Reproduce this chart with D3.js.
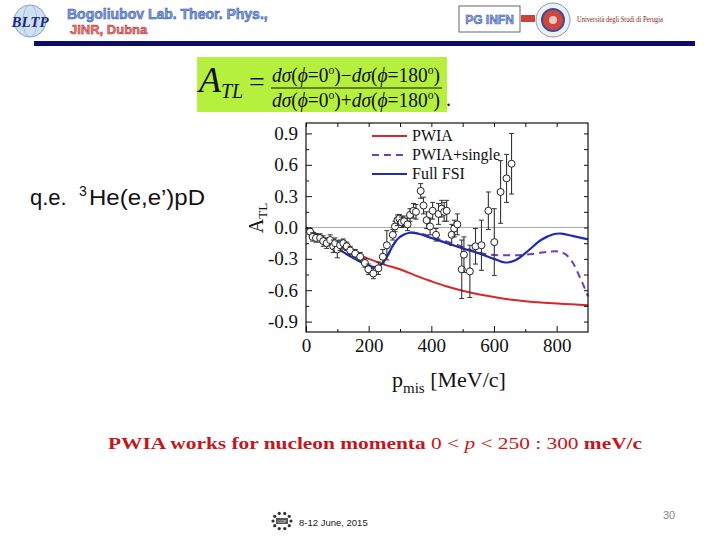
<!DOCTYPE html>
<html>
<head>
<meta charset="utf-8">
<script src="https://cdn.jsdelivr.net/npm/d3@7"></script>
<style>
  body { margin: 0; background: #fff; }
  svg { display: block; }
</style>
</head>
<body>
<script>
// ---- chart data ----
var xTicks = [0, 200, 400, 600, 800];
var xMinor = [100, 300, 500, 700];
var yTicks = [-0.9, -0.6, -0.3, 0.0, 0.3, 0.6, 0.9];
var yMinor = [-0.75, -0.45, -0.15, 0.15, 0.45, 0.75];

var legendNames = ["PWIA", "PWIA+single", "Full FSI"];

var pwiaX = [0, 50, 100, 150, 200, 250, 300, 350, 400, 450, 500, 550, 600, 650, 700, 750, 800, 850, 900];
var pwiaY = [0, -0.09, -0.18, -0.24, -0.30, -0.355, -0.40, -0.46, -0.515, -0.565, -0.605, -0.638, -0.665, -0.688, -0.705, -0.718, -0.727, -0.735, -0.744];

var singleX = [0, 50, 100, 150, 200, 225, 245, 260, 280, 300, 330, 360, 400, 450, 500, 540, 580, 620, 660, 700, 740, 780, 810, 830, 850, 870, 885, 900];
var singleY = [0, -0.10, -0.20, -0.29, -0.365, -0.38, -0.34, -0.27, -0.16, -0.09, -0.05, -0.055, -0.09, -0.135, -0.185, -0.23, -0.258, -0.265, -0.265, -0.26, -0.245, -0.23, -0.232, -0.26, -0.33, -0.45, -0.55, -0.66];

var fsiX = [0, 50, 100, 150, 200, 225, 245, 260, 280, 300, 330, 360, 400, 450, 500, 550, 600, 635, 670, 710, 750, 790, 815, 850, 900];
var fsiY = [0, -0.10, -0.20, -0.29, -0.365, -0.38, -0.34, -0.27, -0.16, -0.09, -0.05, -0.06, -0.10, -0.15, -0.20, -0.245, -0.30, -0.335, -0.31, -0.22, -0.12, -0.065, -0.058, -0.08, -0.114];

var expX = [13, 21, 32, 45, 55, 66, 77, 87, 93, 100, 109, 119, 130, 141, 157, 173, 188, 199, 215, 231, 245, 258,
            277, 284, 292, 298, 305, 313, 324, 332, 343, 351, 366, 375, 385, 396, 404, 415, 423, 433, 441, 449,
            465, 473, 483, 497, 504, 523, 541, 560, 582, 601, 621, 640, 656];
var expY = [-0.04, -0.09, -0.10, -0.10, -0.13, -0.15, -0.12, -0.18, -0.15, -0.21, -0.17, -0.15, -0.18, -0.22, -0.25, -0.28, -0.34, -0.40, -0.44, -0.39, -0.28, -0.17,
            -0.07, 0.01, 0.07, 0.085, 0.05, 0.06, 0.03, 0.12, 0.16, 0.15, 0.35, 0.21, 0.07, 0.01, 0.16, -0.07, 0.13, 0.18, 0.15, 0.16,
            -0.07, -0.01, 0.03, -0.40, -0.26, -0.42, -0.18, -0.17, 0.16, -0.14, 0.34, 0.47, 0.61];
var expErr = [0.03, 0.04, 0.04, 0.04, 0.05, 0.05, 0.05, 0.06, 0.05, 0.08, 0.05, 0.04, 0.04, 0.04, 0.04, 0.04, 0.04, 0.05, 0.05, 0.06, 0.07, 0.14,
              0.05, 0.05, 0.05, 0.04, 0.05, 0.05, 0.06, 0.06, 0.07, 0.07, 0.07, 0.08, 0.08, 0.08, 0.08, 0.06, 0.10, 0.08, 0.09, 0.10,
              0.10, 0.08, 0.10, 0.28, 0.17, 0.25, 0.17, 0.24, 0.18, 0.32, 0.30, 0.23, 0.29];

// ---- layout ----
var W = 720, H = 540;
var L = 306, R = 588, T = 123, B = 332;
var serif = "'Liberation Serif', 'Times New Roman', serif";
var sans = "'Liberation Sans', Arial, sans-serif";

var svg = d3.select("body").append("svg")
  .attr("width", W)
  .attr("height", H);

svg.append("rect").attr("width", W).attr("height", H).attr("fill", "#fff");

// ---- slide header ----
var bltp = svg.append("g");
bltp.append("circle").attr("cx", 30).attr("cy", 21).attr("r", 16)
  .attr("fill", "#cfe0f2").attr("stroke", "#7fa3cc").attr("stroke-width", 1);
bltp.append("ellipse").attr("cx", 30).attr("cy", 21).attr("rx", 7).attr("ry", 16)
  .attr("fill", "none").attr("stroke", "#9bb8da").attr("stroke-width", 0.8);
bltp.append("text").attr("x", 30).attr("y", 27)
  .attr("text-anchor", "middle")
  .attr("font-family", serif).attr("font-style", "italic").attr("font-weight", "bold")
  .attr("font-size", "15px").attr("fill", "#1a2a80")
  .text("BLTP");

svg.append("text").attr("x", 67).attr("y", 19)
  .attr("font-family", sans).attr("font-weight", "bold").attr("font-size", "14px")
  .attr("fill", "#7fa0e0").attr("stroke", "#2c4da6").attr("stroke-width", 0.5)
  .text("Bogoliubov Lab. Theor. Phys.,");
svg.append("text").attr("x", 70).attr("y", 34)
  .attr("font-family", sans).attr("font-weight", "bold").attr("font-size", "13px")
  .attr("fill", "#e58080").attr("stroke", "#b02a2a").attr("stroke-width", 0.5)
  .text("JINR, Dubna");

svg.append("rect").attr("x", 459).attr("y", 6).attr("width", 61).attr("height", 26)
  .attr("fill", "#fff").attr("stroke", "#666").attr("stroke-width", 1);
svg.append("text").attr("x", 489.5).attr("y", 24)
  .attr("text-anchor", "middle")
  .attr("font-family", sans).attr("font-weight", "bold").attr("font-size", "12px")
  .attr("fill", "#8aa8e4").attr("stroke", "#2c4da6").attr("stroke-width", 0.5)
  .text("PG INFN");
svg.append("rect").attr("x", 521).attr("y", 15).attr("width", 14).attr("height", 7).attr("fill", "#c8423a");

var pg = svg.append("g");
pg.append("circle").attr("cx", 553).attr("cy", 20).attr("r", 17)
  .attr("fill", "#eef0f4").attr("stroke", "#8a97b0").attr("stroke-width", 1);
pg.append("circle").attr("cx", 553).attr("cy", 20).attr("r", 11)
  .attr("fill", "#d0463e").attr("stroke", "#3b4f9a").attr("stroke-width", 2);
pg.append("circle").attr("cx", 553).attr("cy", 20).attr("r", 4).attr("fill", "#f1c9c4");
svg.append("text").attr("x", 577).attr("y", 22)
  .attr("font-family", serif).attr("font-size", "7.5px").attr("fill", "#8b1d1d")
  .attr("textLength", 86).attr("lengthAdjust", "spacingAndGlyphs")
  .text("Università degli Studi di Perugia");

svg.append("rect").attr("x", 34).attr("y", 41).attr("width", 661).attr("height", 5).attr("fill", "#0b0b6b");

// ---- formula box ----
svg.append("rect").attr("x", 197).attr("y", 57).attr("width", 250).attr("height", 55).attr("fill", "#b6f03e");
svg.append("text").attr("x", 199).attr("y", 92)
  .attr("font-family", serif).attr("font-style", "italic").attr("font-size", "36px").attr("fill", "#111")
  .text("A")
  .append("tspan").attr("font-size", "20px").attr("dy", 6).text("TL");
svg.append("text").attr("x", 249).attr("y", 91)
  .attr("font-family", serif).attr("font-size", "28px").attr("fill", "#111")
  .text("=");
function fracLine(yy, sign) {
  var t = svg.append("text").attr("x", 272).attr("y", yy)
    .attr("font-family", serif).attr("font-size", "20px").attr("fill", "#111")
    .attr("textLength", 168).attr("lengthAdjust", "spacingAndGlyphs");
  t.append("tspan").attr("font-style", "italic").text("dσ");
  t.append("tspan").text("(");
  t.append("tspan").attr("font-style", "italic").text("ϕ");
  t.append("tspan").text("=0");
  t.append("tspan").attr("font-size", "12px").attr("dy", -8).text("o");
  t.append("tspan").attr("dy", 8).text(")" + sign);
  t.append("tspan").attr("font-style", "italic").text("dσ");
  t.append("tspan").text("(");
  t.append("tspan").attr("font-style", "italic").text("ϕ");
  t.append("tspan").text("=180");
  t.append("tspan").attr("font-size", "12px").attr("dy", -8).text("o");
  t.append("tspan").attr("dy", 8).text(")");
}
fracLine(82, "−");
fracLine(107, "+");
svg.append("line").attr("x1", 271).attr("x2", 442).attr("y1", 88).attr("y2", 88)
  .attr("stroke", "#111").attr("stroke-width", 1.2);
svg.append("text").attr("x", 446).attr("y", 106)
  .attr("font-family", serif).attr("font-size", "20px").attr("fill", "#111").text(".");

// ---- reaction label ----
svg.append("text").attr("x", 30).attr("y", 205)
  .attr("font-family", sans).attr("font-size", "22px").attr("fill", "#111")
  .text("q.e.");
svg.append("text").attr("x", 79).attr("y", 196)
  .attr("font-family", sans).attr("font-size", "14px").attr("fill", "#111")
  .text("3");
svg.append("text").attr("x", 89).attr("y", 205)
  .attr("font-family", sans).attr("font-size", "22px").attr("fill", "#111")
  .attr("textLength", 116).attr("lengthAdjust", "spacingAndGlyphs")
  .text("He(e,e’)pD");

// ---- plot ----
var x = d3.scaleLinear().domain([0, 900]).range([L, R]);
var y = d3.scaleLinear().domain([-1, 1]).range([B, T]);

var plot = svg.append("g");

// zero line
plot.append("line")
  .attr("x1", x(0)).attr("x2", x(900))
  .attr("y1", y(0)).attr("y2", y(0))
  .attr("stroke", "#a8a8a8").attr("stroke-width", 1);

function styleAxis(g) {
  g.select(".domain").remove();
  g.selectAll(".tick line").attr("stroke", "#111").attr("stroke-width", 1);
  g.selectAll("text").attr("font-family", serif).attr("font-size", "19px").attr("fill", "#111");
}

svg.append("g").attr("transform", "translate(0," + B + ")")
  .call(d3.axisBottom(x).tickValues(xTicks).tickSizeInner(-6).tickSizeOuter(0).tickPadding(7).tickFormat(d3.format("d")))
  .call(styleAxis);
svg.append("g").attr("transform", "translate(0," + B + ")")
  .call(d3.axisBottom(x).tickValues(xMinor).tickSizeInner(-3).tickSizeOuter(0).tickFormat(""))
  .call(styleAxis);
svg.append("g").attr("transform", "translate(0," + T + ")")
  .call(d3.axisTop(x).tickValues(xTicks.concat(xMinor)).tickSizeInner(-4).tickSizeOuter(0).tickFormat(""))
  .call(styleAxis);

svg.append("g").attr("transform", "translate(" + L + ",0)")
  .call(d3.axisLeft(y).tickValues(yTicks).tickSizeInner(-6).tickSizeOuter(0).tickPadding(8)
    .tickFormat(function(d) { return d.toFixed(1); }))
  .call(styleAxis);
svg.append("g").attr("transform", "translate(" + L + ",0)")
  .call(d3.axisLeft(y).tickValues(yMinor).tickSizeInner(-3).tickSizeOuter(0).tickFormat(""))
  .call(styleAxis);
svg.append("g").attr("transform", "translate(" + R + ",0)")
  .call(d3.axisRight(y).tickValues(yTicks.concat(yMinor)).tickSizeInner(-4).tickSizeOuter(0).tickFormat(""))
  .call(styleAxis);

// frame
svg.append("rect").attr("x", L).attr("y", T).attr("width", R - L).attr("height", B - T)
  .attr("fill", "none").attr("stroke", "#111").attr("stroke-width", 1.2);

// curves
var line = d3.line()
  .x(function(d) { return x(d[0]); })
  .y(function(d) { return y(d[1]); })
  .curve(d3.curveCatmullRom.alpha(0.5));

function pairs(xs, ys) { return xs.map(function(v, i) { return [v, ys[i]]; }); }

plot.append("path").datum(pairs(pwiaX, pwiaY))
  .attr("d", line).attr("fill", "none")
  .attr("stroke", "#d8262a").attr("stroke-width", 2);
plot.append("path").datum(pairs(singleX, singleY))
  .attr("d", line).attr("fill", "none")
  .attr("stroke", "#6a3fb8").attr("stroke-width", 2).attr("stroke-dasharray", "7,5");
plot.append("path").datum(pairs(fsiX, fsiY))
  .attr("d", line).attr("fill", "none")
  .attr("stroke", "#1a2db5").attr("stroke-width", 2.2);

// data points with error bars
var pts = expX.map(function(v, i) { return { x: v, y: expY[i], e: expErr[i] }; });
var pg2 = plot.selectAll("g.pt").data(pts).enter().append("g").attr("class", "pt");
pg2.append("line")
  .attr("x1", function(d) { return x(d.x); }).attr("x2", function(d) { return x(d.x); })
  .attr("y1", function(d) { return y(d.y - d.e); }).attr("y2", function(d) { return y(d.y + d.e); })
  .attr("stroke", "#333").attr("stroke-width", 1.1);
pg2.append("line")
  .attr("x1", function(d) { return x(d.x) - 2.5; }).attr("x2", function(d) { return x(d.x) + 2.5; })
  .attr("y1", function(d) { return y(d.y + d.e); }).attr("y2", function(d) { return y(d.y + d.e); })
  .attr("stroke", "#333").attr("stroke-width", 1);
pg2.append("line")
  .attr("x1", function(d) { return x(d.x) - 2.5; }).attr("x2", function(d) { return x(d.x) + 2.5; })
  .attr("y1", function(d) { return y(d.y - d.e); }).attr("y2", function(d) { return y(d.y - d.e); })
  .attr("stroke", "#333").attr("stroke-width", 1);
pg2.append("circle")
  .attr("cx", function(d) { return x(d.x); })
  .attr("cy", function(d) { return y(d.y); })
  .attr("r", 3.5)
  .attr("fill", "#fff").attr("stroke", "#222").attr("stroke-width", 1);

// legend
var legColors = ["#d8262a", "#6a3fb8", "#1a2db5"];
var legDash = [null, "7,5", null];
var leg = svg.selectAll("g.leg").data(legendNames).enter().append("g").attr("class", "leg")
  .attr("transform", function(d, i) { return "translate(372," + (136 + i * 19) + ")"; });
leg.append("line").attr("x1", 0).attr("x2", 35).attr("y1", 0).attr("y2", 0)
  .attr("stroke", function(d, i) { return legColors[i]; })
  .attr("stroke-width", 2)
  .attr("stroke-dasharray", function(d, i) { return legDash[i]; });
leg.append("text").attr("x", 40).attr("y", 5)
  .attr("font-family", serif).attr("font-size", "16px").attr("fill", "#111")
  .text(function(d) { return d; });

// axis titles
var yt = svg.append("text")
  .attr("transform", "translate(263,218) rotate(-90)")
  .attr("text-anchor", "middle")
  .attr("font-family", serif).attr("font-size", "20px").attr("fill", "#111");
yt.append("tspan").text("A");
yt.append("tspan").attr("font-size", "13px").attr("dy", 4).text("TL");

var xt = svg.append("text").attr("x", 392).attr("y", 387)
  .attr("font-family", serif).attr("font-size", "22px").attr("fill", "#111");
xt.append("tspan").text("p");
xt.append("tspan").attr("font-size", "15px").attr("dy", 6).text("mis");
xt.append("tspan").attr("dy", -6).text(" [MeV/c]");

// ---- bottom statement ----
var st = svg.append("text").attr("x", 108).attr("y", 449)
  .attr("font-family", serif).attr("font-size", "17px").attr("fill", "#c4161c")
  .attr("textLength", 534).attr("lengthAdjust", "spacingAndGlyphs");
st.append("tspan").attr("font-weight", "bold").text("PWIA works for nucleon momenta ");
st.append("tspan").text("0 <   ");
st.append("tspan").attr("font-style", "italic").text("p");
st.append("tspan").text("   < 250 : 300 ");
st.append("tspan").attr("font-weight", "bold").text("meV/c");

// ---- footer ----
var ft = svg.append("g").attr("transform", "translate(282,521)");
d3.range(10).forEach(function(i) {
  var a = i / 10 * 2 * Math.PI;
  ft.append("circle").attr("cx", 9 * Math.cos(a)).attr("cy", 8 * Math.sin(a)).attr("r", 1.6).attr("fill", "#333");
});
ft.append("rect").attr("x", -6).attr("y", -3).attr("width", 12).attr("height", 6).attr("fill", "#555");
ft.append("text").attr("y", 2).attr("text-anchor", "middle")
  .attr("font-family", sans).attr("font-size", "4px").attr("fill", "#fff").text("CCP");

svg.append("text").attr("x", 299).attr("y", 526)
  .attr("font-family", sans).attr("font-size", "9.5px").attr("fill", "#222")
  .text("8-12 June, 2015");
svg.append("text").attr("x", 663).attr("y", 519)
  .attr("font-family", sans).attr("font-size", "11px").attr("fill", "#888")
  .text("30");
</script>
</body>
</html>
